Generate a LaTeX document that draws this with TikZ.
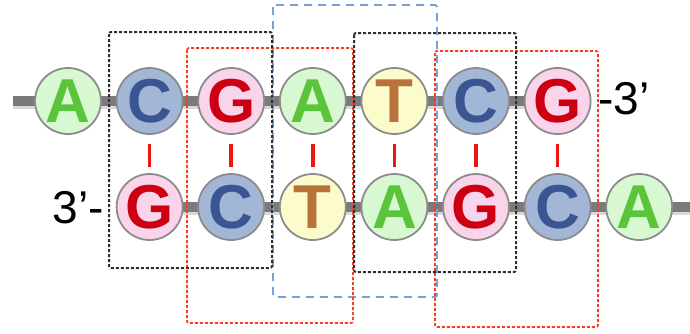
\documentclass[tikz,border=0pt]{standalone}
\usepackage{fontspec}
\setmainfont{Liberation Sans}
\usetikzlibrary{backgrounds}
\definecolor{afill}{HTML}{D8F8D2}\definecolor{atext}{HTML}{5AC43A}
\definecolor{cfill}{HTML}{A2B6D6}\definecolor{ctext}{HTML}{3A5592}
\definecolor{gfill}{HTML}{F9D4EA}\definecolor{gtext}{HTML}{CC0012}
\definecolor{tfill}{HTML}{FCFBCC}\definecolor{ttext}{HTML}{B8733A}
\definecolor{rim}{HTML}{8C8C8C}\definecolor{bbone}{HTML}{7A7A7A}
\definecolor{bond}{HTML}{EE1414}
\definecolor{boxblack}{HTML}{2E2E2E}\definecolor{boxred}{HTML}{FF3B1F}\definecolor{boxblue}{HTML}{7AA0D8}
\tikzset{
  base/.style={circle,draw=rim,line width=1.8pt,minimum size=66pt,inner sep=0pt,font=\fontsize{62}{62}\selectfont\bfseries},
  baseA/.style={base,fill=afill,text=atext},
  baseC/.style={base,fill=cfill,text=ctext},
  baseG/.style={base,fill=gfill,text=gtext},
  baseT/.style={base,fill=tfill,text=ttext},
  backbone/.style={draw=bbone,line width=10pt},
  bondline/.style={draw=bond,line width=3.5pt},
  endlabel/.style={font=\fontsize{46}{46}\selectfont,inner sep=0pt},
  blackbox/.style={draw=boxblack,line width=2pt,dash pattern=on 3pt off 2pt,rounded corners=2pt},
  redbox/.style={draw=boxred,line width=1.8pt,dash pattern=on 3pt off 2pt,rounded corners=2pt},
  bluebox/.style={draw=boxblue,line width=1.8pt,dash pattern=on 8pt off 6pt,rounded corners=2pt}
}
\begin{document}
\begin{tikzpicture}[x=1pt,y=-1pt]
\useasboundingbox (0,0) rectangle (690,333);
% top strand
\node[baseA] (t0) at (68,101) {A};
\node[baseC] (t1) at (149.6,101) {C};
\node[baseG] (t2) at (231.2,101) {G};
\node[baseA] (t3) at (312.8,101) {A};
\node[baseT] (t4) at (394.4,101) {T};
\node[baseC] (t5) at (476,101) {C};
\node[baseG] (t6) at (557.6,101) {G};
% bottom strand
\node[baseG] (b1) at (149.6,207) {G};
\node[baseC] (b2) at (231.2,207) {C};
\node[baseT] (b3) at (312.8,207) {T};
\node[baseA] (b4) at (394.4,207) {A};
\node[baseG] (b5) at (476,207) {G};
\node[baseC] (b6) at (557.6,207) {C};
\node[baseA] (b7) at (639.2,207) {A};
\coordinate (tstart) at (13,101);
\coordinate (bend) at (690,207);
\begin{scope}[on background layer]
  \draw[draw=black!15,line width=13pt] ([yshift=-1.5pt]tstart) -- ([yshift=-1.5pt]t6.center);
  \draw[draw=black!15,line width=13pt] ([yshift=-1.5pt]b1.center) -- ([yshift=-1.5pt]bend);
  \draw[backbone] (tstart) -- (t6.center);
  \draw[backbone] (b1.center) -- (bend);
\end{scope}
% base pair bonds
\foreach \i in {1,...,6} {
  \draw[bondline] ([yshift=-9pt]t\i.south) -- ([yshift=6pt]b\i.north);
}
% end labels
\node[endlabel,anchor=west] (l3top) at (598,99) {-3’};
\node[endlabel,anchor=east] (l3bot) at (104,208) {3’-};
% boxes
\draw[bluebox] (273,5) rectangle (437,297);
\draw[redbox] (187,48) rectangle (353,323);
\draw[redbox] (435,51) rectangle (598,327);
\draw[blackbox] (109,32) rectangle (272,268);
\draw[blackbox] (354,33) rectangle (516,272);
\end{tikzpicture}
\end{document}
